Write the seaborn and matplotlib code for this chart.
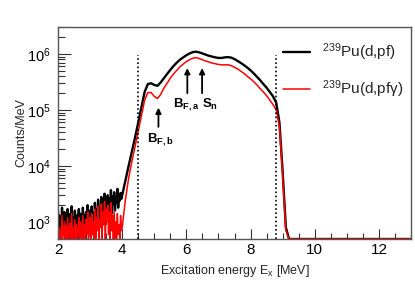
import numpy as np
import pandas as pd
import matplotlib
matplotlib.use("Agg")
import matplotlib.pyplot as plt
import seaborn as sns
from matplotlib.ticker import LogLocator, MultipleLocator, NullFormatter

# ---------------- data ----------------
ex_noise = [2.000, 2.025, 2.050, 2.075, 2.100, 2.125, 2.150, 2.175, 2.200, 2.225,
            2.250, 2.275, 2.300, 2.325, 2.350, 2.375, 2.400, 2.425, 2.450, 2.475,
            2.500, 2.525, 2.550, 2.575, 2.600, 2.625, 2.650, 2.675, 2.700, 2.725,
            2.750, 2.775, 2.800, 2.825, 2.850, 2.875, 2.900, 2.925, 2.950, 2.975,
            3.000, 3.025, 3.050, 3.075, 3.100, 3.125, 3.150, 3.175, 3.200, 3.225,
            3.250, 3.275, 3.300, 3.325, 3.350, 3.375, 3.400, 3.425, 3.450, 3.475,
            3.500, 3.525, 3.550, 3.575, 3.600, 3.625, 3.650, 3.675, 3.700, 3.725,
            3.750, 3.775, 3.800, 3.825, 3.850, 3.875, 3.900, 3.925, 3.950, 3.975]
pf_noise = [1600, 600, 1300, 900, 400, 1800, 700, 1100, 1500, 500,
            1200, 800, 1700, 450, 1000, 1400, 650, 1900, 800, 1200,
            550, 1600, 900, 1300, 400, 1100, 1700, 700, 1400, 950,
            600, 1800, 850, 1300, 500, 1500, 1000, 2000, 700, 1200,
            1600, 550, 1900, 1000, 1400, 750, 2200, 900, 1700, 1100,
            2500, 800, 1600, 1300, 2800, 1000, 2100, 1500, 3200, 900,
            2400, 1700, 3000, 1200, 2600, 1900, 3700, 1400, 2900, 2100,
            3400, 1600, 2700, 2200, 3900, 1800, 3000, 2400, 3300, 2600]
pfg_noise = [1100, 250, 800, 500, 150, 1300, 400, 700, 1000, 200,
             850, 350, 1200, 180, 600, 950, 300, 1400, 450, 800,
             200, 1100, 500, 900, 150, 700, 1200, 350, 1000, 550,
             250, 1300, 450, 900, 200, 1100, 600, 1500, 350, 800,
             1200, 250, 1400, 600, 1000, 300, 1700, 500, 1200, 700,
             1900, 400, 1100, 800, 2100, 500, 1500, 900, 2300, 450,
             1700, 1000, 2000, 600, 1500, 350, 2200, 700, 1300, 250,
             1600, 450, 1000, 200, 1400, 600, 900, 300, 1300, 700]

ex_main = [4.0, 4.1, 4.2, 4.3, 4.4, 4.5, 4.6, 4.7, 4.8, 4.9,
           5.0, 5.1, 5.2, 5.3, 5.4, 5.5, 5.6, 5.7, 5.8, 5.9,
           6.0, 6.1, 6.2, 6.3, 6.4, 6.5, 6.6, 6.7, 6.8, 6.9,
           7.0, 7.1, 7.2, 7.3, 7.4, 7.5, 7.6, 7.7, 7.8, 7.9,
           8.0, 8.1, 8.2, 8.3, 8.4, 8.5, 8.6, 8.7, 8.8, 8.9,
           9.0, 9.1, 9.2, 13.0]
pf_main = [3000, 5500, 1.0e4, 1.8e4, 3.2e4, 6.0e4, 1.15e5, 2.1e5, 2.9e5, 3.0e5,
           2.8e5, 2.7e5, 3.1e5, 3.7e5, 4.4e5, 5.2e5, 6.1e5, 7.0e5, 7.9e5, 8.7e5,
           9.5e5, 1.02e6, 1.08e6, 1.10e6, 1.07e6, 1.02e6, 9.7e5, 9.3e5, 9.0e5, 8.7e5,
           8.5e5, 8.5e5, 8.7e5, 8.8e5, 8.6e5, 8.1e5, 7.5e5, 6.9e5, 6.3e5, 5.7e5,
           5.1e5, 4.5e5, 3.9e5, 3.4e5, 2.9e5, 2.5e5, 2.1e5, 1.75e5, 1.35e5, 6.0e4,
           8.0e3, 800, 0, 0]
pfg_main = [800, 2500, 6000, 1.2e4, 2.2e4, 4.2e4, 8.0e4, 1.5e5, 2.05e5, 2.05e5,
            1.75e5, 1.6e5, 1.9e5, 2.45e5, 3.0e5, 3.7e5, 4.4e5, 5.1e5, 5.9e5, 6.6e5,
            7.3e5, 7.9e5, 8.4e5, 8.6e5, 8.3e5, 7.9e5, 7.5e5, 7.2e5, 6.9e5, 6.7e5,
            6.5e5, 6.4e5, 6.4e5, 6.4e5, 6.2e5, 5.8e5, 5.4e5, 4.9e5, 4.5e5, 4.0e5,
            3.6e5, 3.2e5, 2.8e5, 2.4e5, 2.1e5, 1.8e5, 1.5e5, 1.25e5, 1.0e5, 5.0e4,
            7.0e3, 700, 0, 0]

series_labels = ["$^{239}$Pu(d,pf)", "$^{239}$Pu(d,pfγ)"]
barrier_energies = [5.13, 6.03, 6.49]
barrier_labels = [r"$\mathbf{B}_{\mathbf{F,b}}$", r"$\mathbf{B}_{\mathbf{F,a}}$", r"$\mathbf{S}_{\mathbf{n}}$"]
window_energies = [4.5, 8.8]
x_ticks = [2, 4, 6, 8, 10, 12]

# ---------------- style ----------------
sns.set_theme(style="ticks")
plt.rcParams["font.family"] = ["Liberation Sans", "DejaVu Sans"]
plt.rcParams["mathtext.fontset"] = "custom"
plt.rcParams["mathtext.rm"] = "Liberation Sans"
plt.rcParams["mathtext.it"] = "Liberation Sans:italic"
plt.rcParams["mathtext.bf"] = "Liberation Sans:bold"
plt.rcParams["mathtext.default"] = "regular"

YMIN, YMAX = 10 ** 2.696, 10 ** 6.482

df = pd.concat([
    pd.DataFrame({"Ex": ex_noise + ex_main, "counts": pf_noise + pf_main, "reaction": series_labels[0]}),
    pd.DataFrame({"Ex": ex_noise + ex_main, "counts": pfg_noise + pfg_main, "reaction": series_labels[1]}),
], ignore_index=True)
df["shown"] = df["counts"].clip(lower=YMIN)

fig = plt.figure(figsize=(4.15, 2.81), dpi=100)
ax = fig.add_axes([58 / 415, 1 - 239 / 281, 353 / 415, 212 / 281])

colors = {series_labels[0]: "black", series_labels[1]: "#ff0000"}
widths = {series_labels[0]: 1.7, series_labels[1]: 1.1}
for lab in series_labels:
    sub = df[df["reaction"] == lab]
    sns.lineplot(data=sub, x="Ex", y="shown", color=colors[lab], lw=widths[lab],
                 sort=False, estimator=None, ax=ax, label=lab)

ax.set_yscale("log")
ax.set_xlim(2, 13)
ax.set_ylim(YMIN, YMAX)

for xe in window_energies:
    ax.plot([xe, xe], [YMIN, 9.5e5], color="black", lw=1.2, ls=(0, (1, 1.5)))

# arrows
arrow_spec = [(1.1e5, 5.0e4), (5.6e5, 2.0e5), (5.6e5, 2.0e5)]
text_y = [3.0e4, 1.25e5, 1.25e5]
text_dx = [0.07, -0.03, 0.24]
for xe, lab, (yh, yt), ty, dx in zip(barrier_energies, barrier_labels, arrow_spec, text_y, text_dx):
    ax.annotate("", xy=(xe, yh), xytext=(xe, yt),
                arrowprops=dict(arrowstyle="-|>", mutation_scale=8, lw=1.3, color="black",
                                shrinkA=0, shrinkB=0))
    ax.text(xe + dx, ty, lab, ha="center", va="center", fontsize=9.5, color="black")

ax.set_xticks(x_ticks)
ax.xaxis.set_minor_locator(MultipleLocator(0.5))
ax.yaxis.set_major_locator(LogLocator(base=10, numticks=10))
ax.yaxis.set_minor_locator(LogLocator(base=10, subs=np.arange(2, 10), numticks=20))
ax.yaxis.set_minor_formatter(NullFormatter())
ax.tick_params(axis="both", which="both", direction="in", colors="#333333",
               labelcolor="black", labelsize=11)
ax.tick_params(axis="x", which="major", length=7, width=0.8, pad=3)
ax.tick_params(axis="x", which="minor", length=4, width=0.8)
ax.tick_params(axis="y", which="major", length=9, width=0.8, pad=5, labelsize=10.5)
ax.tick_params(axis="y", which="minor", length=5, width=0.8)
ax.tick_params(top=False, right=False, which="both")
for s in ax.spines.values():
    s.set_color("#555555")
    s.set_linewidth(1.0)

ax.set_xlabel("Excitation energy E$_\\mathrm{x}$ [MeV]", fontsize=9, labelpad=4)
ax.set_ylabel("Counts/MeV", fontsize=9)
ax.yaxis.set_label_coords(-0.088, 0.5)

ax.legend(loc="upper left", bbox_to_anchor=(0.637, 0.93), frameon=False, fontsize=11,
          handlelength=1.75, handletextpad=0.8, labelspacing=1.0, borderpad=0, borderaxespad=0)

fig.savefig("out.png", dpi=100)
